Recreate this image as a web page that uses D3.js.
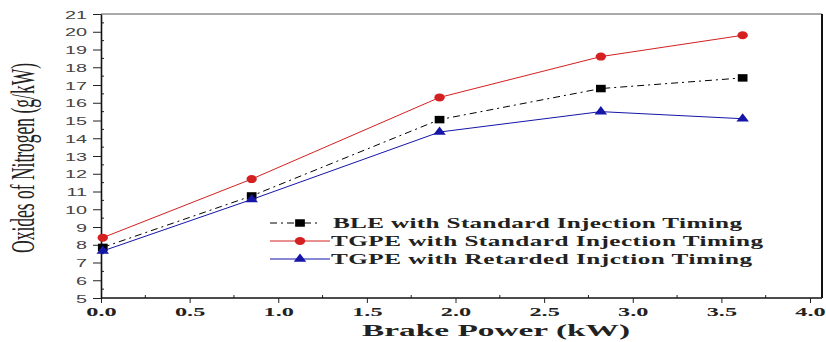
<!DOCTYPE html>
<html>
<head>
<meta charset="utf-8">
<script src="https://cdn.jsdelivr.net/npm/d3@7"></script>
<style>
  body { margin: 0; background: #fff; }
  svg { display: block; }
</style>
</head>
<body>
<svg id="chart" width="826" height="342"></svg>
<script>
// data
const power = [0.01, 0.85, 1.91, 2.82, 3.62];
const bleStandard = [7.85, 10.75, 15.05, 16.8, 17.4];
const tgpeStandard = [8.4, 11.7, 16.3, 18.6, 19.8];
const tgpeRetarded = [7.65, 10.55, 14.35, 15.5, 15.1];
const seriesNames = [
    "BLE with Standard Injection Timing",
    "TGPE with Standard Injection Timing",
    "TGPE with Retarded Injction Timing"
];
const xTickValues = [0, 0.5, 1, 1.5, 2, 2.5, 3, 3.5, 4];
const yTickValues = d3.range(5, 22, 1);

const SX = 1.8; // the original picture is stretched sideways

const svg = d3.select("#chart");
const x = d3.scaleLinear().domain([0, 4]).range([101, 810]);
const y = d3.scaleLinear().domain([5, 21]).range([298, 14]);
const xEnd = 822;

const series = [
    { name: seriesNames[0], values: bleStandard, color: "#000000", dash: "7,4,2,4", symbol: d3.symbolSquare, size: 56, lineFrom: 270, lineTo: 318 },
    { name: seriesNames[1], values: tgpeStandard, color: "#d42020", dash: null, symbol: d3.symbolCircle, size: 50, lineFrom: 270, lineTo: 330 },
    { name: seriesNames[2], values: tgpeRetarded, color: "#1515a8", dash: null, symbol: d3.symbolTriangle, size: 40, lineFrom: 270, lineTo: 330 }
];

// frame: top and right
svg.append("line").attr("x1", x(0)).attr("x2", xEnd).attr("y1", y(21)).attr("y2", y(21))
    .attr("stroke", "#555").attr("stroke-width", 1);
svg.append("line").attr("x1", xEnd).attr("x2", xEnd).attr("y1", y(21)).attr("y2", y(5))
    .attr("stroke", "#111").attr("stroke-width", 2);

// minor ticks, pointing inward
svg.append("g").selectAll("line")
    .data(d3.range(5.5, 21, 1))
    .enter().append("line")
    .attr("x1", x(0)).attr("x2", x(0) + 3)
    .attr("y1", d => y(d)).attr("y2", d => y(d))
    .attr("stroke", "#222");
svg.append("g").selectAll("line")
    .data(d3.range(0.25, 4, 0.5))
    .enter().append("line")
    .attr("x1", d => x(d)).attr("x2", d => x(d))
    .attr("y1", y(5)).attr("y2", y(5) - 3)
    .attr("stroke", "#222");

// y axis
const yAxis = svg.append("g")
    .attr("transform", `translate(${x(0)},0)`)
    .call(d3.axisLeft(y).tickValues(yTickValues).tickSize(8).tickSizeOuter(0).tickFormat(d3.format("d")));
yAxis.select(".domain").attr("stroke", "#111").attr("stroke-width", 1.6);
yAxis.selectAll(".tick line").attr("stroke", "#222");
yAxis.selectAll(".tick text")
    .attr("x", 0).attr("dy", null)
    .attr("transform", d => `translate(-14,4) scale(${SX},1)`)
    .attr("font-family", "Liberation Sans, Arial, sans-serif")
    .attr("font-size", 11)
    .attr("fill", "#444");

// x axis
const xAxis = svg.append("g")
    .attr("transform", `translate(0,${y(5)})`)
    .call(d3.axisBottom(x).tickValues(xTickValues).tickSize(5).tickSizeOuter(0).tickFormat(d3.format(".1f")));
xAxis.select(".domain").attr("d", `M${x(0)},0H${xEnd}`).attr("stroke", "#111").attr("stroke-width", 1.6);
xAxis.selectAll(".tick line").attr("stroke", "#222");
xAxis.selectAll(".tick text")
    .attr("y", 0).attr("dy", null)
    .attr("transform", `translate(0,18) scale(${SX},1)`)
    .attr("font-family", "Liberation Serif, Times New Roman, serif")
    .attr("font-weight", "bold")
    .attr("font-size", 13.5)
    .attr("fill", "#222");

// axis titles
svg.append("text")
    .attr("transform", `translate(496,336) scale(${SX},1)`)
    .attr("text-anchor", "middle")
    .attr("font-family", "Liberation Serif, Times New Roman, serif")
    .attr("font-weight", "bold")
    .attr("font-size", 17.5)
    .attr("fill", "#222")
    .attr("textLength", 268 / SX)
    .attr("lengthAdjust", "spacingAndGlyphs")
    .text("Brake Power (kW)");

svg.append("text")
    .attr("transform", `translate(34,158) scale(${SX},1) rotate(-90)`)
    .attr("text-anchor", "middle")
    .attr("font-family", "Liberation Serif, Times New Roman, serif")
    .attr("font-size", 19)
    .attr("fill", "#222")
    .attr("textLength", 190)
    .attr("lengthAdjust", "spacingAndGlyphs")
    .text("Oxides of Nitrogen (g/kW)");

// lines and markers
const line = d3.line()
    .x((d, i) => x(power[i]))
    .y(d => y(d));

series.forEach(s => {
    svg.append("path")
        .datum(s.values)
        .attr("d", line)
        .attr("fill", "none")
        .attr("stroke", s.color)
        .attr("stroke-width", 1)
        .attr("stroke-dasharray", s.dash);

    svg.append("g").selectAll("path")
        .data(s.values)
        .enter().append("path")
        .attr("d", d3.symbol().type(s.symbol).size(s.size))
        .attr("transform", (d, i) => `translate(${x(power[i])},${y(d)}) scale(1.3,1)`)
        .attr("fill", s.color);
});

// legend
const legendY = [223, 241, 259];
series.forEach((s, i) => {
    const g = svg.append("g");
    g.append("line")
        .attr("x1", s.lineFrom).attr("x2", s.lineTo)
        .attr("y1", legendY[i]).attr("y2", legendY[i])
        .attr("stroke", s.color)
        .attr("stroke-width", 1)
        .attr("stroke-dasharray", s.dash);
    g.append("path")
        .attr("d", d3.symbol().type(s.symbol).size(s.size))
        .attr("transform", `translate(300,${legendY[i]}) scale(1.3,1)`)
        .attr("fill", s.color);
});

const legendText = [
    { x: 333, end: 742 },
    { x: 331, end: 763 },
    { x: 331, end: 752 }
];
series.forEach((s, i) => {
    const t = legendText[i];
    svg.append("text")
        .attr("transform", `translate(${t.x},${legendY[i] + 5}) scale(${SX},1)`)
        .attr("font-family", "Liberation Serif, Times New Roman, serif")
        .attr("font-weight", "bold")
        .attr("font-size", 14)
        .attr("fill", "#222")
        .attr("textLength", (t.end - t.x) / SX)
        .attr("lengthAdjust", "spacing")
        .text(s.name);
});
</script>
</body>
</html>
